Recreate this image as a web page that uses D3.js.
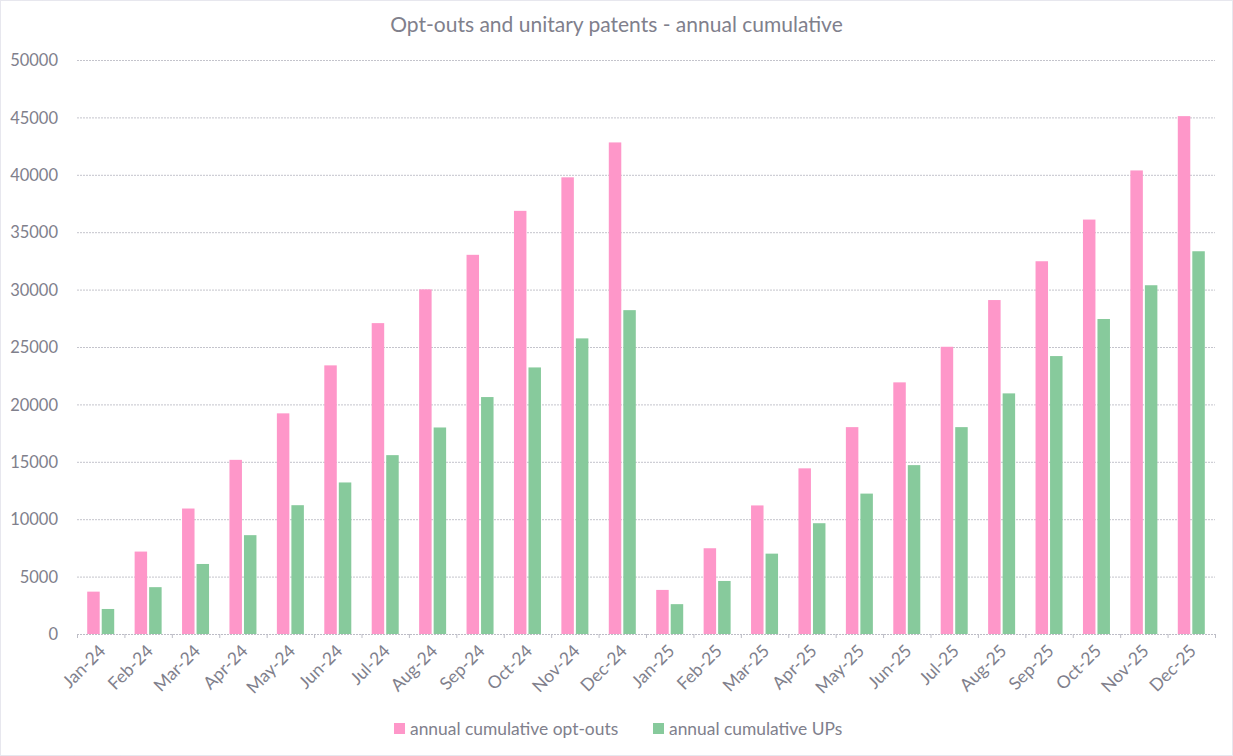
<!DOCTYPE html>
<html>
<head>
<meta charset="utf-8">
<script src="https://cdn.jsdelivr.net/npm/d3@7"></script>
<style>
  body { margin: 0; background: #fff; }
  text { font-family: Lato, "Noto Sans", sans-serif; fill: #80808c; }
</style>
</head>
<body>
<svg id="chart" width="1233" height="756"></svg>
<script>
// data
const months = ['Jan-24', 'Feb-24', 'Mar-24', 'Apr-24', 'May-24', 'Jun-24', 'Jul-24', 'Aug-24',
  'Sep-24', 'Oct-24', 'Nov-24', 'Dec-24', 'Jan-25', 'Feb-25', 'Mar-25', 'Apr-25', 'May-25',
  'Jun-25', 'Jul-25', 'Aug-25', 'Sep-25', 'Oct-25', 'Nov-25', 'Dec-25']
const optOuts = [3690, 7180, 10930, 15170, 19220, 23400, 27080, 30020, 33030, 36860, 39780, 42820,
  3840, 7470, 11200, 14430, 18020, 21920, 25020, 29090, 32470, 36100, 40380, 45110]
const unitaryPatents = [2180, 4080, 6100, 8610, 11220, 13200, 15580, 17990, 20640, 23220, 25750, 28210,
  2600, 4620, 7000, 9650, 12230, 14710, 18020, 20960, 24210, 27440, 30380, 33340]
const seriesNames = ['annual cumulative opt-outs', 'annual cumulative UPs']
const yTicks = [0, 5000, 10000, 15000, 20000, 25000, 30000, 35000, 40000, 45000, 50000]

const colors = ['#fe97c9', '#87ca9c']
const margin = { left: 77, right: 18, top: 60, bottom: 122 }
const width = 1233
const height = 756

const svg = d3.select('#chart')

// chart border
svg.append('rect')
  .attr('x', 0.5).attr('y', 0.5)
  .attr('width', width - 1).attr('height', height - 1)
  .attr('fill', 'none')
  .attr('stroke', '#cfcfdc')
  .attr('stroke-dasharray', '1,1')

const xScale = d3.scaleBand()
  .domain(months)
  .range([margin.left, width - margin.right])
  .padding(0)

const yScale = d3.scaleLinear()
  .domain([0, 50000])
  .range([height - margin.bottom, margin.top])

const bw = xScale.bandwidth()
const xInner = d3.scaleBand()
  .domain([0, 1])
  .range([bw / 2 - 13.5, bw / 2 + 13.5])
  .paddingInner(0.14)

// title
svg.append('text')
  .attr('x', width / 2)
  .attr('y', 32)
  .attr('text-anchor', 'middle')
  .style('font-size', '21px')
  .text('Opt-outs and unitary patents - annual cumulative')

// gridlines
svg.append('g')
  .selectAll('line')
  .data(yTicks.slice(1))
  .enter()
  .append('line')
  .attr('x1', margin.left)
  .attr('x2', width - margin.right)
  .attr('y1', d => yScale(d) + 0.5)
  .attr('y2', d => yScale(d) + 0.5)
  .attr('stroke', '#c4c4cc')
  .attr('stroke-dasharray', '2,1')

// y axis labels
const yAxis = svg.append('g')
  .attr('transform', `translate(${margin.left - 16}, 0)`)
  .call(d3.axisLeft(yScale).tickValues(yTicks).tickSize(0).tickFormat(d3.format('d')))
yAxis.select('.domain').remove()
yAxis.selectAll('text').style('font-size', '16.5px').attr('dy', '0.35em')

// bars
const groups = svg.append('g')
  .selectAll('g')
  .data(months)
  .enter()
  .append('g')
  .attr('transform', d => `translate(${xScale(d)}, 0)`)

groups.each(function (m, i) {
  const group = d3.select(this)
  const values = [optOuts[i], unitaryPatents[i]]
  values.forEach((v, s) => {
    group.append('rect')
      .attr('x', xInner(s))
      .attr('y', yScale(v))
      .attr('width', xInner.bandwidth())
      .attr('height', yScale(0) - yScale(v))
      .attr('fill', colors[s])
  })
})

// x axis
const baseY = yScale(0)
svg.append('line')
  .attr('x1', margin.left).attr('x2', width - margin.right)
  .attr('y1', baseY + 0.5).attr('y2', baseY + 0.5)
  .attr('stroke', '#bdbdc6')
  .attr('stroke-dasharray', '2,1')

svg.append('g')
  .selectAll('line')
  .data(months.concat(['end']))
  .enter()
  .append('line')
  .attr('x1', (d, i) => margin.left + i * bw + 0.5)
  .attr('x2', (d, i) => margin.left + i * bw + 0.5)
  .attr('y1', baseY)
  .attr('y2', baseY + 4)
  .attr('stroke', '#bdbdc6')

const xAxis = svg.append('g')
  .attr('transform', `translate(0, ${baseY})`)
  .call(d3.axisBottom(xScale).tickSize(0))
xAxis.select('.domain').remove()
xAxis.selectAll('text')
  .style('font-size', '17.5px')
  .attr('text-anchor', 'end')
  .attr('dy', 0)
  .attr('transform', 'translate(6, 18) rotate(-45)')
  .attr('y', 0)

// legend
const legendX = [394, 653]
const legend = svg.append('g')
seriesNames.forEach((name, s) => {
  legend.append('rect')
    .attr('x', legendX[s])
    .attr('y', 723)
    .attr('width', 11)
    .attr('height', 11)
    .attr('fill', colors[s])
  legend.append('text')
    .attr('x', legendX[s] + 16)
    .attr('y', 735)
    .style('font-size', '17.4px')
    .text(name)
})
</script>
</body>
</html>
